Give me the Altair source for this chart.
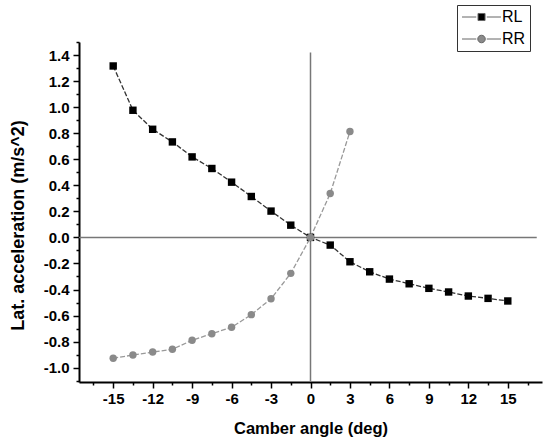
import altair as alt
import pandas as pd

# ---- data ----
rl_x = [-15, -13.5, -12, -10.5, -9, -7.5, -6, -4.5, -3, -1.5, 0,
        1.5, 3, 4.5, 6, 7.5, 9, 10.5, 12, 13.5, 15]
rl_y = [1.316, 0.976, 0.830, 0.733, 0.618, 0.529, 0.424, 0.314, 0.202, 0.094, 0.0,
        -0.059, -0.187, -0.264, -0.320, -0.356, -0.391, -0.419, -0.450, -0.468, -0.488]
rr_x = [-15, -13.5, -12, -10.5, -9, -7.5, -6, -4.5, -3, -1.5, 0, 1.5, 3]
rr_y = [-0.928, -0.903, -0.880, -0.859, -0.790, -0.739, -0.690, -0.593, -0.471, -0.276,
        0.0, 0.337, 0.813]
series_names = ["RL", "RR"]

x_major = [-15, -12, -9, -6, -3, 0, 3, 6, 9, 12, 15]
x_minor = [-16.5, -13.5, -10.5, -7.5, -4.5, -1.5, 1.5, 4.5, 7.5, 10.5, 13.5, 16.5]
y_major = [-1.0, -0.8, -0.6, -0.4, -0.2, 0.0, 0.2, 0.4, 0.6, 0.8, 1.0, 1.2, 1.4]
y_minor = [-1.1, -0.9, -0.7, -0.5, -0.3, -0.1, 0.1, 0.3, 0.5, 0.7, 0.9, 1.1, 1.3, 1.5]

x_domain = [-17.6, 17.6]
y_domain = [-1.11, 1.5]

df = pd.DataFrame({
    "x": rl_x + rr_x,
    "y": rl_y + rr_y,
    "s": ["RL"] * len(rl_x) + ["RR"] * len(rr_x),
})

zero_v = pd.DataFrame({"x": [0.0], "y": [-1.11], "y2": [1.42]})
zero_h = pd.DataFrame({"y": [0.0], "x": [-17.6], "x2": [17.2]})

FONT = "Liberation Sans"

x_scale = alt.Scale(domain=x_domain, nice=False, zero=False)
y_scale = alt.Scale(domain=y_domain, nice=False, zero=False)

x_axis_major = alt.Axis(
    orient="bottom",
    values=x_major,
    title="Camber angle (deg)",
    labelExpr="replace(format(datum.value, 'd'), '\u2212', '-')",
    tickSize=6,
    grid=False,
    labelPadding=3,
    titlePadding=14,
    titleFontSize=16.5,
)
x_axis_minor = alt.Axis(
    orient="bottom", values=x_minor, tickSize=3, labels=False, domain=False,
    grid=False, title=None,
)
y_axis_major = alt.Axis(
    orient="left",
    values=y_major,
    title="Lat. acceleration (m/s^2)",
    labelExpr="replace(format(datum.value, '.1f'), '\u2212', '-')",
    tickSize=6,
    grid=False,
    labelPadding=4,
    titleX=-61,
    titleY=183,
    titleAlign="center",
    titleBaseline="middle",
    titleAngle=270,
    titleFontSize=18,
)
y_axis_minor = alt.Axis(
    orient="left", values=y_minor, tickSize=3, labels=False, domain=False,
    grid=False, title=None,
)

rule_v = alt.Chart(zero_v).mark_rule(color="#777777", strokeWidth=1.5).encode(
    x=alt.X("x:Q", scale=x_scale, axis=x_axis_major),
    y=alt.Y("y:Q", scale=y_scale, axis=y_axis_major),
    y2="y2:Q",
)
rule_h = alt.Chart(zero_h).mark_rule(color="#777777", strokeWidth=1.5).encode(
    x=alt.X("x:Q", scale=x_scale, axis=x_axis_minor),
    x2="x2:Q",
    y=alt.Y("y:Q", scale=y_scale, axis=y_axis_minor),
)

lines = alt.Chart(df).mark_line(strokeWidth=1.3, strokeDash=[5, 2]).encode(
    x=alt.X("x:Q", scale=x_scale, axis=None),
    y=alt.Y("y:Q", scale=y_scale, axis=None),
    color=alt.Color("s:N", scale=alt.Scale(domain=series_names, range=["#333333", "#999999"]), legend=None),
    detail="s:N",
)

points = alt.Chart(df).mark_point(filled=True, opacity=1).encode(
    x=alt.X("x:Q", scale=x_scale, axis=None),
    y=alt.Y("y:Q", scale=y_scale, axis=None),
    color=alt.Color("s:N", scale=alt.Scale(domain=series_names, range=["#000000", "#8a8a8a"]), legend=None),
    shape=alt.Shape("s:N", scale=alt.Scale(domain=series_names, range=["square", "circle"]), legend=None),
    size=alt.value(55),
)

# legend symbols "—■—" / "—●—" as custom paths (1 unit = 7.5 px at symbolSize 225),
# shifted right so the whole symbol sits inside the legend box
sq_path = "M-0.93,0H0.97M2.37,0H4.27M1.2,-0.47H2.14V0.47H1.2Z"
ci_path = "M-0.93,0H0.97M2.37,0H4.27M1.17,0A0.5,0.5 0 1,0 2.17,0A0.5,0.5 0 1,0 1.17,0Z"

legend_props = dict(
    title=None,
    orient="none",
    legendX=378,
    legendY=-37,
    symbolSize=225,
    symbolOpacity=1,
    symbolStrokeWidth=1,
    strokeColor="#333333",
    fillColor="white",
    padding=4,
    labelFont=FONT,
    labelFontSize=16,
    labelColor="black",
    labelOffset=25,
    rowPadding=6,
)

legend_layer = alt.Chart(df).mark_point(filled=True, opacity=0, stroke="#666666", strokeWidth=1).encode(
    x=alt.X("x:Q", scale=x_scale, axis=None),
    y=alt.Y("y:Q", scale=y_scale, axis=None),
    color=alt.Color(
        "s:N",
        scale=alt.Scale(domain=series_names, range=["#000000", "#8a8a8a"]),
        legend=alt.Legend(**legend_props),
    ),
    shape=alt.Shape(
        "s:N",
        scale=alt.Scale(domain=series_names, range=[sq_path, ci_path]),
        legend=alt.Legend(**legend_props),
    ),
)

chart = alt.layer(rule_v, rule_h, lines, points, legend_layer).resolve_scale(
    color="independent", shape="independent"
).resolve_axis(
    x="independent", y="independent"
).properties(
    width=463,
    height=340,
    padding={"left": 79, "top": 42, "right": 4, "bottom": 61},
    autosize=alt.AutoSizeParams(type="none"),
).configure_view(
    stroke=None
).configure_axis(
    domainColor="black",
    domainWidth=2,
    tickColor="black",
    tickWidth=1.5,
    labelFont=FONT,
    labelFontSize=15,
    labelFontWeight="bold",
    labelColor="black",
    titleFont=FONT,
    titleFontWeight="bold",
    titleColor="black",
)

chart.save("out.html", embed_options={"renderer": "svg", "actions": False})
